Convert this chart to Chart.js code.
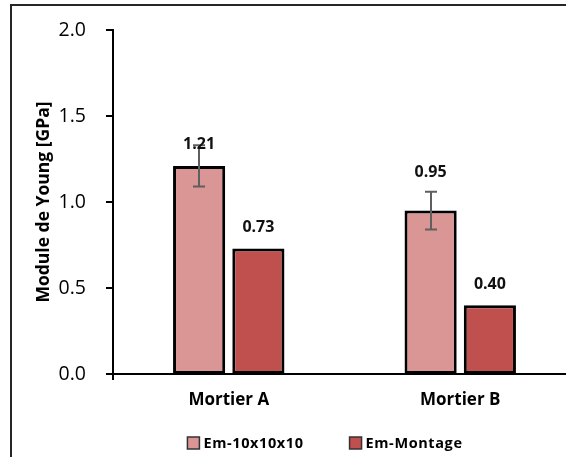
<!DOCTYPE html>
<html>
<head>
<meta charset="utf-8">
<script src="https://cdn.jsdelivr.net/npm/chart.js@4.4.0/dist/chart.umd.min.js"></script>
<style>
  html, body { margin: 0; padding: 0; background: #fff; overflow: hidden; width: 566px; height: 457px; }
  #frame {
    position: absolute; left: 10px; top: 4px;
    border-left: 2px solid #262626; border-top: 2px solid #262626;
    width: 606px; height: 470px;
  }
  canvas { display: block; }
</style>
</head>
<body>
<div id="frame"><canvas id="chart" width="606" height="460"></canvas></div>
<script>
// données du graphique
const categories = ['Mortier A', 'Mortier B'];
const seriesNames = ['Em-10x10x10', 'Em-Montage'];
const em10Values = [1.21, 0.95];
const em10Errors = [0.12, 0.11];
const montageValues = [0.73, 0.40];
const yTicks = [0, 0.5, 1.0, 1.5, 2.0];

const FONT = '"Open Sans", Lato, sans-serif';

// barres d'erreur
const errorBarPlugin = {
  id: 'errorBars',
  afterDatasetsDraw(chart) {
    const ctx = chart.ctx;
    const y = chart.scales.y;
    chart.data.datasets.forEach((ds, di) => {
      if (!ds.errors) return;
      const meta = chart.getDatasetMeta(di);
      meta.data.forEach((bar, i) => {
        const v = ds.data[i], e = ds.errors[i];
        const top = y.getPixelForValue(v + e);
        const bot = y.getPixelForValue(v - e);
        const x = Math.round(bar.x);
        ctx.save();
        ctx.strokeStyle = '#5f5f5f';
        ctx.lineWidth = 2;
        ctx.beginPath();
        ctx.moveTo(x, top); ctx.lineTo(x, bot);
        ctx.moveTo(x - 6, top); ctx.lineTo(x + 6, top);
        ctx.moveTo(x - 6, bot); ctx.lineTo(x + 6, bot);
        ctx.stroke();
        ctx.restore();
      });
    });
  }
};

// graduations de l'axe Y (traits extérieurs)
const yTickMarks = {
  id: 'yTickMarks',
  afterDraw(chart) {
    const ctx = chart.ctx;
    const y = chart.scales.y;
    const x0 = chart.chartArea.left;
    ctx.save();
    ctx.strokeStyle = '#000';
    ctx.lineWidth = 2;
    ctx.beginPath();
    y.ticks.forEach(t => {
      const py = Math.round(y.getPixelForValue(t.value));
      ctx.moveTo(x0 - 7, py); ctx.lineTo(x0, py);
    });
    const py0 = y.getPixelForValue(0);
    ctx.moveTo(x0, py0); ctx.lineTo(x0, py0 + 6);
    ctx.stroke();
    ctx.restore();
  }
};

// étiquettes de valeurs
const valueLabelPlugin = {
  id: 'valueLabels',
  afterDraw(chart, args, opts) {
    const ctx = chart.ctx;
    ctx.save();
    ctx.font = 'bold 16px ' + FONT;
    ctx.fillStyle = '#111';
    ctx.textAlign = 'center';
    ctx.textBaseline = 'middle';
    chart.data.datasets.forEach((ds, di) => {
      const meta = chart.getDatasetMeta(di);
      meta.data.forEach((bar, i) => {
        const lift = (opts.lift[di] && opts.lift[di][i]) || 21;
        ctx.fillText(ds.data[i].toFixed(2), bar.x, bar.y - lift);
      });
    });
    ctx.restore();
  }
};

// légende en bas, dessinée à la main pour l'espacement
const bottomLegend = {
  id: 'bottomLegend',
  afterDraw(chart, args, opts) {
    const ctx = chart.ctx;
    const ds = chart.data.datasets;
    ctx.save();
    ctx.font = 'bold 14.5px ' + FONT;
    ctx.letterSpacing = '0.6px';
    const box = 12, gap = 4, itemGap = 46;
    const widths = ds.map(d => ctx.measureText(d.label).width);
    const total = widths.reduce((a, w) => a + box + gap + w, 0) + itemGap * (ds.length - 1);
    let x = opts.cx - total / 2;
    const cy = opts.y;
    ds.forEach((d, i) => {
      ctx.fillStyle = d.backgroundColor;
      ctx.fillRect(x, cy - box / 2, box, box);
      ctx.strokeStyle = '#333';
      ctx.lineWidth = 1.5;
      ctx.strokeRect(x, cy - box / 2, box, box);
      ctx.fillStyle = '#000';
      ctx.textAlign = 'left';
      ctx.textBaseline = 'middle';
      ctx.fillText(d.label, x + box + gap, cy + 1);
      x += box + gap + widths[i] + itemGap;
    });
    ctx.restore();
  }
};

new Chart(document.getElementById('chart'), {
  type: 'bar',
  data: {
    labels: categories,
    datasets: [
      {
        label: seriesNames[0],
        data: em10Values,
        errors: em10Errors,
        backgroundColor: '#d99694',
        borderColor: '#000',
        borderWidth: 3,
        borderSkipped: false
      },
      {
        label: seriesNames[1],
        data: montageValues,
        backgroundColor: '#c0504d',
        borderColor: '#000',
        borderWidth: 3,
        borderSkipped: false
      }
    ]
  },
  options: {
    responsive: false,
    animation: false,
    categoryPercentage: 0.512,
    barPercentage: 0.88,
    layout: { padding: { top: 24, right: 42, bottom: 45, left: 0 } },
    scales: {
      x: {
        grid: { display: false, drawTicks: false },
        border: { color: '#000', width: 2 },
        ticks: { color: '#000', font: { family: FONT, size: 17, weight: 'bold' }, padding: 16 },
        afterFit(scale) { scale.height = 47; }
      },
      y: {
        min: 0, max: 2,
        afterBuildTicks(scale) { scale.ticks = yTicks.map(v => ({ value: v })); },
        grid: { display: false },
        border: { color: '#000', width: 2 },
        ticks: {
          color: '#000', padding: 19,
          font: { family: FONT, size: 19.5, lineHeight: 0.5 },
          callback: v => v.toFixed(1)
        },
        title: {
          display: true, text: 'Module de Young [GPa]', color: '#000',
          font: { family: FONT, size: 17.5, weight: 'bold' },
          padding: { top: 22, bottom: 7 }
        },
        afterFit(scale) { scale.width = 101; }
      }
    },
    plugins: {
      legend: { display: false },
      tooltip: { enabled: false },
      valueLabels: { lift: [[21, 38], [21, 21]] },
      bottomLegend: { cx: 313, y: 437 }
    }
  },
  plugins: [errorBarPlugin, yTickMarks, valueLabelPlugin, bottomLegend]
});
</script>
</body>
</html>
